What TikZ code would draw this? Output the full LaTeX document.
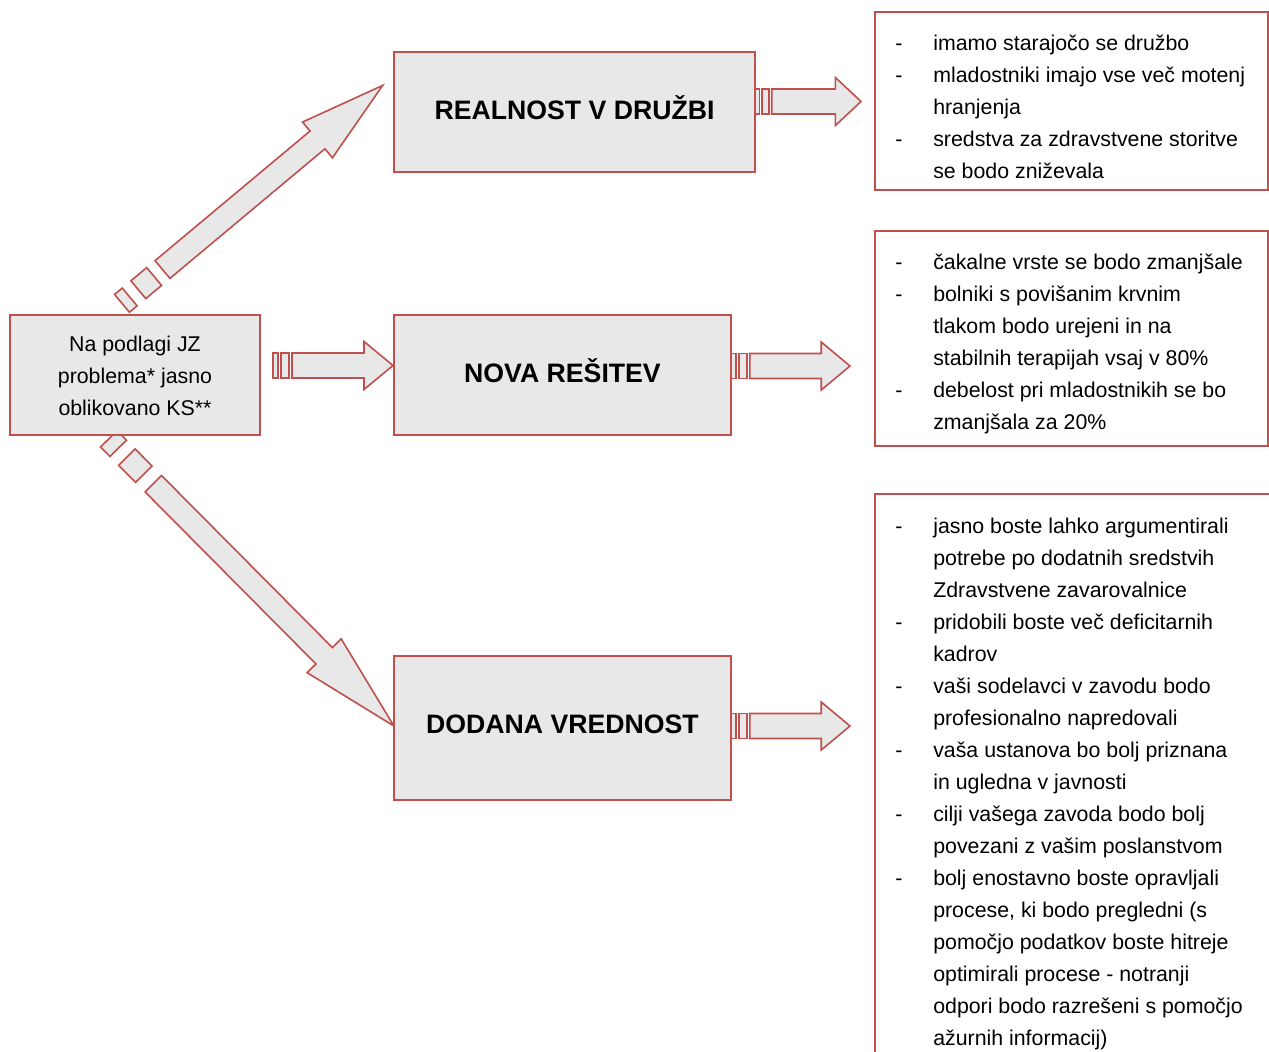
\documentclass[tikz,border=0pt]{standalone}
\usepackage{fontspec}
\setmainfont{Liberation Sans}
\newdimen\pxu \pxu=0.75pt
\definecolor{bred}{HTML}{C0504D}
\definecolor{bgray}{HTML}{E8E8E8}
\tikzset{
  gbox/.style={draw=bred, fill=bgray, line width=1.5pt, inner sep=0pt, outer sep=0pt, anchor=north west},
  rbox/.style={draw=bred, fill=white, line width=1.5pt, inner sep=0pt, outer sep=0pt, anchor=north west},
  blk/.style={draw=bred, fill=bgray, line width=1.2pt, line join=miter},
  ttl/.style={font=\fontsize{20}{24}\selectfont\bfseries, anchor=base, inner sep=0pt},
  bodyfont/.style={font=\fontsize{16}{24}\selectfont},
  lst/.style={anchor=base west, inner sep=0pt, bodyfont},
}
\newcommand\hblockarrow[4]{% name, x start, y centre, total length
  \begin{scope}[shift={(#2,#3)}, xscale=#4/120]
    \draw[blk] (0,-12.5) rectangle (5,12.5);
    \draw[blk] (8,-12.5) rectangle (16,12.5);
    \draw[blk] (19,-12.5) -- (91,-12.5) -- (91,-24) -- (120,0) coordinate (#1) -- (91,24) -- (91,12.5) -- (19,12.5) -- cycle;
  \end{scope}}
\begin{document}
\begin{tikzpicture}[x=0.75pt, y=-0.75pt]
\clip (0,0) rectangle (1269,1051);

% diagonal block arrows (drawn first, behind the boxes)
\begin{scope}[shift={(162.5,269.5)}, rotate=39.9]
  \draw[blk] (-52.8,-11.6) rectangle (-42.8,11.6);
  \draw[blk] (-31.5,-11.6) rectangle (-10.9,11.6);
  \draw[blk] (0,-11.6) -- (202,-11.6) -- (202,-23.3) -- (287,0) coordinate (uptip) -- (202,23.3) -- (202,11.6) -- (0,11.6) -- cycle;
\end{scope}
\begin{scope}[shift={(153.3,483.7)}, rotate=-45.2]
  \draw[blk] (-63.2,-11.6) rectangle (-49.8,11.6);
  \draw[blk] (-37.5,-11.6) rectangle (-13.5,11.6);
  \draw[blk] (0,-11.6) -- (242.5,-11.6) -- (242.5,-24) -- (341.5,0) coordinate (dntip) -- (242.5,24) -- (242.5,11.6) -- (0,11.6) -- cycle;
\end{scope}

% grey boxes
\node[gbox, minimum width=250\pxu, minimum height=120\pxu] (src) at (10,315) {};
\node[bodyfont, align=center, inner sep=0pt] (srct) at (135,376)
  {Na podlagi JZ\\problema* jasno\\oblikovano KS**};
\node[gbox, minimum width=361\pxu, minimum height=120\pxu] (real) at (394,52) {};
\node[gbox, minimum width=337\pxu, minimum height=120\pxu] (nova) at (394,315) {};
\node[gbox, minimum width=337\pxu, minimum height=144\pxu] (doda) at (394,656) {};
\node[ttl] (realt) at (574.5,119) {REALNOST V DRUŽBI};
\node[ttl] (novat) at (562.5,382) {NOVA REŠITEV};
\node[ttl] (dodat) at (562.5,733) {DODANA VREDNOST};

% text boxes
\node[rbox, minimum width=393\pxu, minimum height=178\pxu] (r1) at (875,12) {};
\node[rbox, minimum width=393\pxu, minimum height=215\pxu] (r2) at (875,231) {};
\node[rbox, minimum width=400\pxu, minimum height=600\pxu] (r3) at (875,494) {};

\node[lst] (t1) at (895,50) {\begin{tabular}[t]{@{}p{38\pxu}@{}l@{}}
- & imamo starajočo se družbo\\
- & mladostniki imajo vse več motenj\\
  & hranjenja\\
- & sredstva za zdravstvene storitve\\
  & se bodo zniževala
\end{tabular}};
\node[lst] (t2) at (895,269) {\begin{tabular}[t]{@{}p{38\pxu}@{}l@{}}
- & čakalne vrste se bodo zmanjšale\\
- & bolniki s povišanim krvnim\\
  & tlakom bodo urejeni in na\\
  & stabilnih terapijah vsaj v 80\%\\
- & debelost pri mladostnikih se bo\\
  & zmanjšala za 20\%
\end{tabular}};
\node[lst] (t3) at (895,533) {\begin{tabular}[t]{@{}p{38\pxu}@{}l@{}}
- & jasno boste lahko argumentirali\\
  & potrebe po dodatnih sredstvih\\
  & Zdravstvene zavarovalnice\\
- & pridobili boste več deficitarnih\\
  & kadrov\\
- & vaši sodelavci v zavodu bodo\\
  & profesionalno napredovali\\
- & vaša ustanova bo bolj priznana\\
  & in ugledna v javnosti\\
- & cilji vašega zavoda bodo bolj\\
  & povezani z vašim poslanstvom\\
- & bolj enostavno boste opravljali\\
  & procese, ki bodo pregledni (s\\
  & pomočjo podatkov boste hitreje\\
  & optimirali procese - notranji\\
  & odpori bodo razrešeni s pomočjo\\
  & ažurnih informacij)
\end{tabular}};

% horizontal block arrows
\hblockarrow{a1}{273}{365.5}{120}
\hblockarrow{a2}{755}{101.5}{106}
\hblockarrow{a3}{731}{366}{119}
\hblockarrow{a4}{731}{726}{119}
\end{tikzpicture}
\end{document}
